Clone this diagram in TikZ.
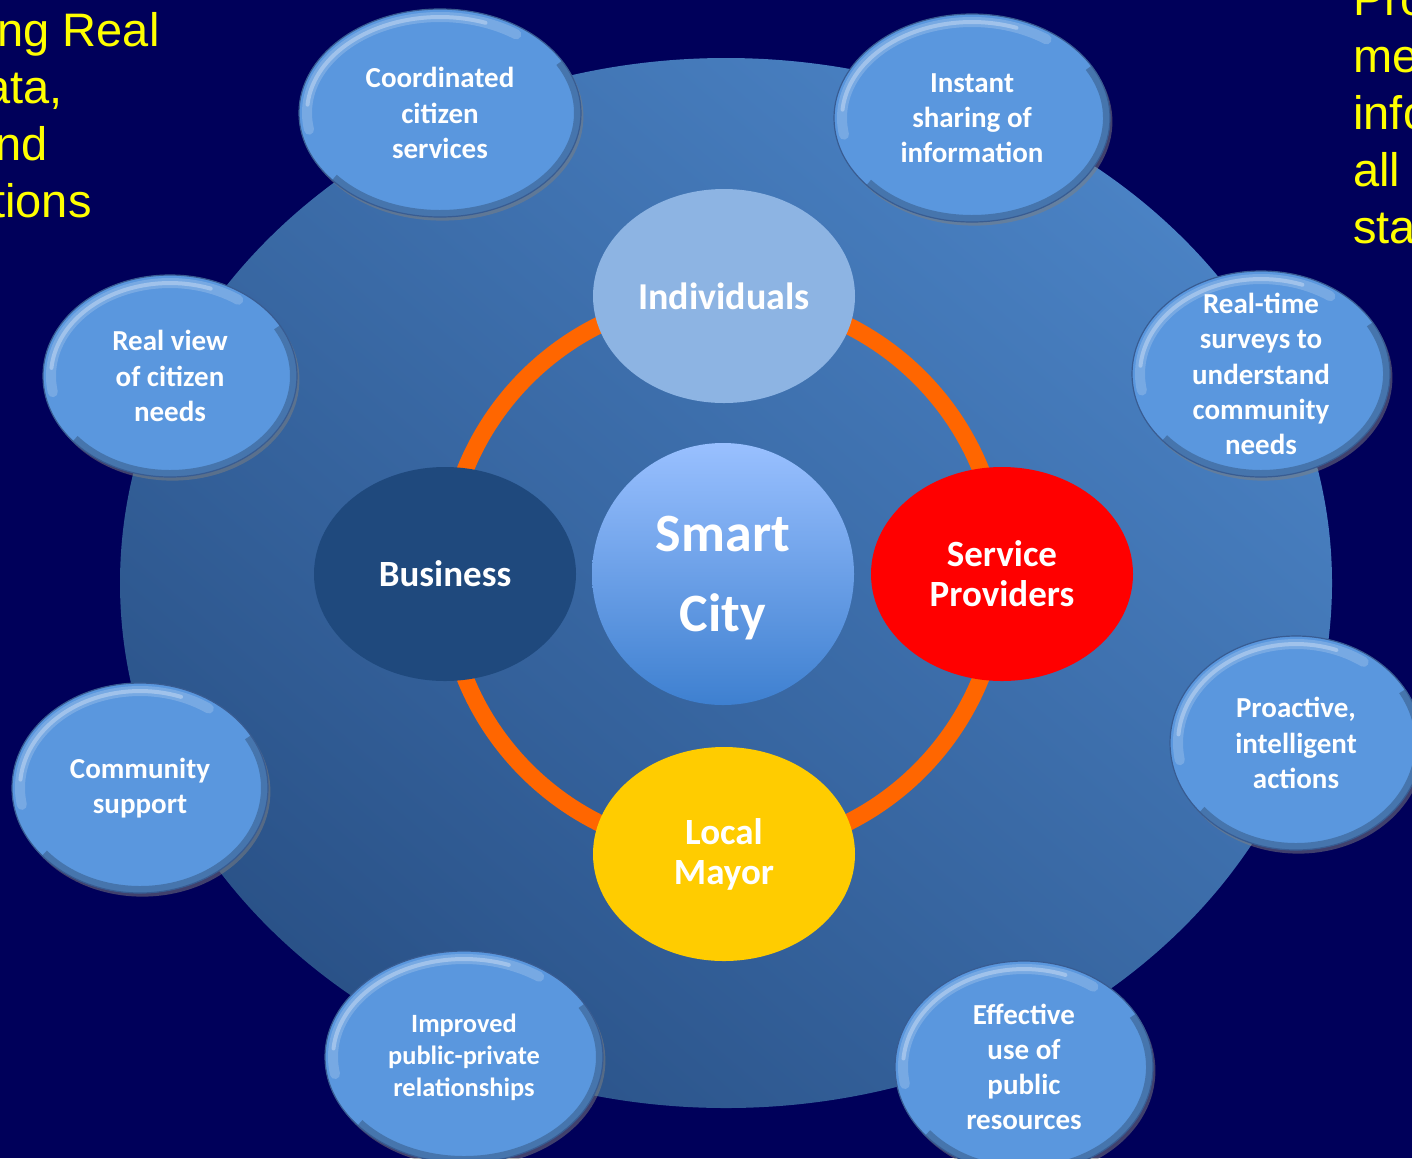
\documentclass[tikz,border=0pt]{standalone}
\usepackage{fontspec}
\newfontfamily\calibrifont{Carlito}
\newfontfamily\arialfont{Liberation Sans}
\usetikzlibrary{shapes,shadows,calc}

\definecolor{slidebg}{RGB}{0,0,90}
\definecolor{disclight}{RGB}{74,130,196}
\definecolor{discdark}{RGB}{42,82,136}
\definecolor{bubblefill}{RGB}{90,151,222}
\definecolor{bubblerim}{RGB}{56,92,146}
\definecolor{ringorange}{RGB}{255,102,0}
\definecolor{indivblue}{RGB}{141,180,227}
\definecolor{busblue}{RGB}{31,73,125}
\definecolor{mayorgold}{RGB}{255,204,0}
\definecolor{citytop}{RGB}{153,192,255}
\definecolor{citybottom}{RGB}{62,128,208}
\definecolor{slideyellow}{RGB}{255,255,0}

\begin{document}
\begin{tikzpicture}[x=0.5pt, y=-0.5pt,
  bubbletext/.style={align=center, text=white, inner sep=0pt,
    font=\calibrifont\bfseries\fontsize{14.5}{17.6}\selectfont},
  smalltext/.style={font=\calibrifont\bfseries\fontsize{13.2}{16}\selectfont},
  bevel/.style={path picture={
      \draw[white, opacity=0.18, line width=5pt, line cap=round]
        let \p1=(path picture bounding box.south west),
            \p2=(path picture bounding box.north east),
            \n1={0.5*(\x2-\x1)-4pt}, \n2={0.5*(\y2-\y1)-4pt}
        in ($(\p1)!0.5!(\p2)$) ++(190:\n1 and \n2)
           arc[start angle=190, end angle=55, x radius=\n1, y radius=\n2];
      \draw[white, opacity=0.3, line width=2pt, line cap=round]
        let \p1=(path picture bounding box.south west),
            \p2=(path picture bounding box.north east),
            \n1={0.5*(\x2-\x1)-4pt}, \n2={0.5*(\y2-\y1)-4pt}
        in ($(\p1)!0.5!(\p2)$) ++(175:\n1 and \n2)
           arc[start angle=175, end angle=70, x radius=\n1, y radius=\n2];
      \draw[black, opacity=0.22, line width=5pt]
        let \p1=(path picture bounding box.south west),
            \p2=(path picture bounding box.north east),
            \n1={0.5*(\x2-\x1)-1pt}, \n2={0.5*(\y2-\y1)-1pt}
        in ($(\p1)!0.5!(\p2)$) ++(30:\n1 and \n2)
           arc[start angle=30, end angle=-140, x radius=\n1, y radius=\n2];
    }},
  bubblebase/.style={ellipse, inner sep=0pt, fill=bubblefill, draw=bubblerim,
    line width=0.6pt, bevel,
    drop shadow={shadow xshift=1.2pt, shadow yshift=-1.8pt, opacity=0.5}},
  bubble/.style={bubblebase, label={[bubbletext]center:#1}},
  smallbubble/.style={bubblebase, label={[bubbletext, smalltext]center:#1}},
  hub/.style={ellipse, inner sep=0pt, minimum width=131pt, minimum height=107pt,
    align=center, text=white,
    font=\calibrifont\bfseries\fontsize{18.5}{20}\selectfont},
  ring/.style={ringorange, line width=8.5pt},
  slidetext/.style={text=slideyellow, inner sep=0pt,
    font=\arialfont\fontsize{23.5}{28.5}\selectfont}
]

  \newcommand\DiscX{726}
  \newcommand\DiscY{583}

  \useasboundingbox (0,0) rectangle (1412,1158);
  \fill[slidebg] (0,0) rectangle (1412,1158);

  \begin{scope}
  \clip (0,0) rectangle (1412,1158);

  % background disc
  \shade[top color=disclight, bottom color=discdark, shading angle=-40]
    (\DiscX,\DiscY) ellipse[x radius=303pt, y radius=262.5pt];

  % yellow slide text, cut by the page
  \node[slidetext, anchor=base east] (lt1) at (160,46) {ng Real};
  \node[slidetext, anchor=base east] (lt2) at (63,103) {ata,};
  \node[slidetext, anchor=base east] (lt3) at (48,160) {nd};
  \node[slidetext, anchor=base east] (lt4) at (92,217) {tions};

  \node[slidetext, anchor=base west] (rt1) at (1353,15) {Pro};
  \node[slidetext, anchor=base west] (rt2) at (1353,72) {me};
  \node[slidetext, anchor=base west] (rt3) at (1353,129) {info};
  \node[slidetext, anchor=base west] (rt4) at (1353,186) {all};
  \node[slidetext, anchor=base west] (rt5) at (1353,243) {sta};

  % centre
  \node[circle, inner sep=0pt, minimum size=131pt, top color=citytop,
    bottom color=citybottom,
    label={[align=center, text=white, inner sep=0pt, yshift=-2pt,
      font=\calibrifont\bfseries\fontsize{27}{40}\selectfont]center:Smart\\City}]
    (city) at (723,574) {};

  \draw[ring] (city.center) circle[radius=139pt];

  \node[hub, fill=indivblue] (indiv) at (724,296)
    {\fontsize{19}{20}\selectfont Individuals};
  \node[hub, fill=busblue] (business) at (445,574) {Business};
  \node[hub, fill=red] (provider) at (1002,574) {Service\\Providers};
  \node[hub, fill=mayorgold] (mayor) at (724,854) {Local\\Mayor};

  % outer bubbles
  \node[bubble={Coordinated\\citizen\\services},
    minimum width=141pt, minimum height=104pt] (coord) at (440,113) {};
  \node[bubble={Instant\\sharing of\\information},
    minimum width=138pt, minimum height=104pt] (sharing) at (972,118) {};
  \node[bubble={Real view\\of citizen\\needs},
    minimum width=127pt, minimum height=101pt] (realview) at (170,376) {};
  \node[bubble={Real-time\\surveys to\\understand\\community\\needs},
    minimum width=129pt, minimum height=103pt] (surveys) at (1261,374) {};
  \node[bubble={Community\\support},
    minimum width=128pt, minimum height=105pt] (community) at (140,788) {};
  \node[bubble={Proactive,\\intelligent\\actions},
    minimum width=126pt, minimum height=107pt] (proactive) at (1296,743) {};
  \node[smallbubble={Improved\\public-private\\relationships},
    minimum width=139pt, minimum height=106pt] (improved) at (464,1057) {};
  \node[bubble={Effective\\use of\\public\\resources},
    minimum width=129pt, minimum height=106pt] (effective) at (1024,1067) {};

  \end{scope}

\end{tikzpicture}
\end{document}
